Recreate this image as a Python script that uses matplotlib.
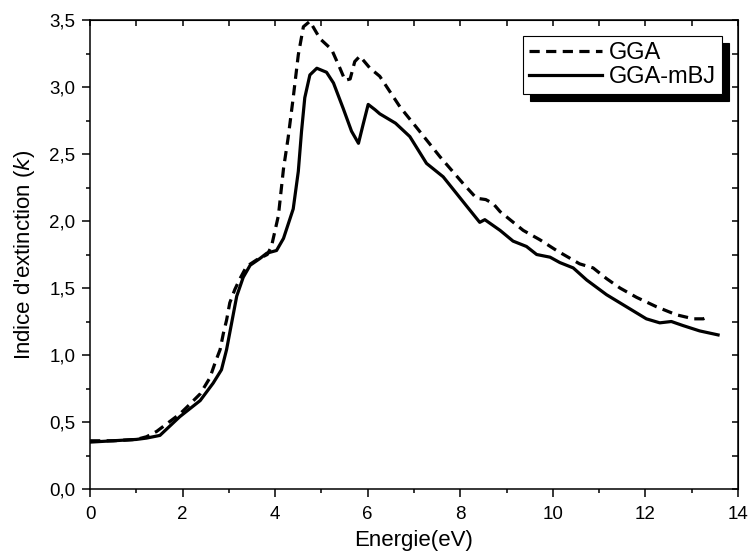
import matplotlib
matplotlib.use("Agg")
import matplotlib.pyplot as plt
from matplotlib.ticker import MultipleLocator, FuncFormatter

plt.rcParams['font.family'] = ['Liberation Sans', 'DejaVu Sans']

## Data
# GGA (dashed)
e_gga = [0.0, 0.5, 1.0, 1.22, 1.44, 1.94, 2.09, 2.38, 2.59, 2.7, 2.81, 2.88, 2.95,
         3.02, 3.13, 3.24, 3.38, 3.6, 3.83, 3.92, 4.07, 4.18, 4.28, 4.39, 4.5,
         4.61, 4.75, 4.97, 5.22, 5.4, 5.51, 5.62, 5.72, 5.83, 6.05, 6.26, 6.7,
         7.05, 7.56, 8.06, 8.35, 8.55, 8.71, 8.86, 9.36, 9.72, 10.08, 10.58,
         10.87, 11.16, 11.45, 11.81, 12.24, 12.67, 13.04, 13.25, 13.39]
k_gga = [0.36, 0.36, 0.37, 0.39, 0.43, 0.56, 0.61, 0.71, 0.83, 0.94, 1.04, 1.16, 1.26,
         1.39, 1.49, 1.57, 1.66, 1.71, 1.75, 1.81, 2.04, 2.39, 2.62, 2.92, 3.24,
         3.45, 3.49, 3.36, 3.28, 3.14, 3.05, 3.06, 3.19, 3.23, 3.14, 3.08, 2.85,
         2.70, 2.48, 2.28, 2.17, 2.16, 2.13, 2.07, 1.93, 1.86, 1.78, 1.68,
         1.65, 1.57, 1.50, 1.43, 1.36, 1.30, 1.27, 1.27, 1.29]

# GGA-mBJ (solid)
e_mbj = [0.0, 0.5, 1.0, 1.22, 1.51, 1.94, 2.38, 2.66, 2.84, 2.95, 3.06, 3.17, 3.31,
         3.46, 3.67, 3.82, 4.03, 4.18, 4.39, 4.5, 4.57, 4.64, 4.75, 4.9, 5.11,
         5.26, 5.47, 5.65, 5.8, 5.9, 6.01, 6.16, 6.26, 6.6, 6.91, 7.27, 7.63,
         8.14, 8.42, 8.53, 8.86, 9.14, 9.43, 9.65, 9.94, 10.15, 10.44, 10.73,
         11.16, 11.59, 12.02, 12.31, 12.56, 12.81, 13.17, 13.57]
k_mbj = [0.35, 0.36, 0.37, 0.38, 0.40, 0.54, 0.66, 0.79, 0.89, 1.04, 1.24, 1.44, 1.58,
         1.67, 1.72, 1.76, 1.78, 1.87, 2.09, 2.37, 2.67, 2.92, 3.09, 3.14, 3.11,
         3.03, 2.84, 2.67, 2.58, 2.72, 2.87, 2.83, 2.80, 2.73, 2.63, 2.43, 2.33,
         2.11, 1.99, 2.01, 1.93, 1.85, 1.81, 1.75, 1.73, 1.69, 1.65, 1.56,
         1.45, 1.36, 1.27, 1.24, 1.25, 1.22, 1.18, 1.15]

fig = plt.figure(figsize=(7.49, 5.54), dpi=100)
ax = fig.add_axes([0.1202, 0.1173, 0.8651, 0.8466])

ax.plot(e_gga, k_gga, color='black', lw=2.3, ls=(0, (3.2, 2.0)), label='GGA')
ax.plot(e_mbj, k_mbj, color='black', lw=2.3, label='GGA-mBJ')

ax.set_xlim(0, 14)
ax.set_ylim(0, 3.5)
ax.xaxis.set_major_locator(MultipleLocator(2))
ax.xaxis.set_minor_locator(MultipleLocator(1))
ax.yaxis.set_major_locator(MultipleLocator(0.5))
ax.yaxis.set_minor_locator(MultipleLocator(0.25))
ax.yaxis.set_major_formatter(FuncFormatter(lambda v, p: f"{v:.1f}".replace('.', ',')))

ax.tick_params(which='both', direction='out', labelsize=13.5, width=1.1)
ax.tick_params(axis='x', which='major', length=5.5, pad=7)
ax.tick_params(axis='y', which='major', length=5.5, pad=5)
ax.tick_params(which='minor', length=3)
for s in ax.spines.values():
    s.set_linewidth(1.1)

# top and right ticks point inward
top = ax.secondary_xaxis('top')
top.xaxis.set_major_locator(MultipleLocator(1))
top.tick_params(direction='in', length=4, width=1.1, labeltop=False)
right = ax.secondary_yaxis('right')
right.yaxis.set_major_locator(MultipleLocator(0.25))
right.tick_params(direction='in', length=4, width=1.1, labelright=False)

ax.set_xlabel('Energie(eV)', fontsize=16, labelpad=5)
ax.set_ylabel("Indice d'extinction ($\\it{k}$)", fontsize=16, labelpad=9)

leg = ax.legend(loc='upper right', bbox_to_anchor=(0.975, 0.966), borderaxespad=0,
                fontsize=17, fancybox=False, edgecolor='black', framealpha=1,
                handlelength=3.1, handletextpad=0.3, borderpad=0.25, labelspacing=0.1,
                shadow={'ox': 5, 'oy': -5, 'color': 'black', 'alpha': 1})
leg.get_frame().set_linewidth(0.8)

fig.savefig('out.png', dpi=100)
